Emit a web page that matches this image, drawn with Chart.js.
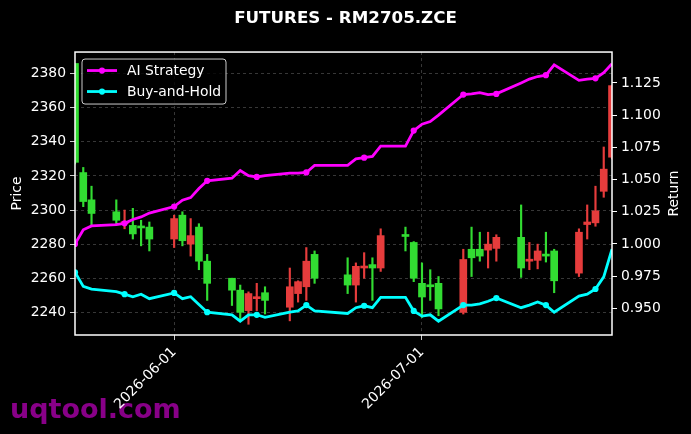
<!DOCTYPE html>
<html>
<head>
<meta charset="utf-8">
<script src="https://cdn.jsdelivr.net/npm/chart.js@4.4.1/dist/chart.umd.min.js"></script>
<style>
  html, body { margin: 0; padding: 0; background: #000; }
</style>
</head>
<body>
<canvas id="candleCanvas" width="691" height="434"></canvas>
<script>
const dates = [
  "2026-05-20", "2026-05-21", "2026-05-22", "2026-05-25", "2026-05-26", "2026-05-27", "2026-05-28", "2026-05-29",
  "2026-06-01", "2026-06-02", "2026-06-03", "2026-06-04", "2026-06-05", "2026-06-08", "2026-06-09", "2026-06-10",
  "2026-06-11", "2026-06-12", "2026-06-15", "2026-06-16", "2026-06-17", "2026-06-18", "2026-06-22", "2026-06-23",
  "2026-06-24", "2026-06-25", "2026-06-26", "2026-06-29", "2026-06-30", "2026-07-01", "2026-07-02", "2026-07-03",
  "2026-07-06", "2026-07-07", "2026-07-08", "2026-07-09", "2026-07-10", "2026-07-13", "2026-07-14", "2026-07-15",
  "2026-07-16", "2026-07-17", "2026-07-20", "2026-07-21", "2026-07-22", "2026-07-23", "2026-07-24",
];
const opens = [
  2386, 2322, 2306, 2299, 2292, 2291, 2290, 2290, 2283, 2297, 2280, 2290, 2270, 2260, 2253, 2241,
  2248, 2251.5, 2243, 2251, 2255, 2274, 2262, 2256, 2266, 2268, 2266, 2285, 2281, 2257, 2255.5, 2257,
  2240, 2277, 2277, 2276.5, 2277.5, 2284, 2270, 2270.5, 2273.5, 2276, 2263, 2291.5, 2292.5, 2311, 2331,
];
const highs = [
  2386, 2325, 2314, 2306, 2300, 2301, 2294, 2293, 2297, 2299, 2295, 2292, 2274, 2260, 2256, 2252,
  2257, 2255, 2266, 2258.5, 2278, 2276, 2272, 2269, 2275, 2272, 2289, 2290, 2281.5, 2269, 2265, 2261,
  2277, 2290, 2287, 2287, 2285.5, 2303, 2281, 2280, 2287, 2277, 2289, 2303, 2314, 2337, 2373,
];
const lows = [
  2327, 2302, 2291, 2292, 2289, 2283, 2279, 2276, 2278, 2279, 2273, 2265, 2247, 2244, 2235, 2233,
  2241, 2239, 2235, 2246, 2247, 2257, 2251, 2246, 2260, 2247, 2264, 2276, 2258, 2237, 2247, 2238,
  2239, 2261, 2270, 2266, 2270, 2260.5, 2265, 2265.5, 2269.5, 2251.5, 2261, 2283, 2290.5, 2307.5, 2330,
];
const closes = [
  2328, 2305, 2298, 2294, 2293, 2286, 2289.5, 2283, 2295, 2282, 2285, 2270, 2257, 2253, 2240, 2251,
  2249, 2247, 2255, 2258, 2270, 2260, 2256, 2267, 2267, 2266, 2285, 2284.5, 2260, 2249, 2255, 2242,
  2271, 2272, 2273, 2280, 2284, 2266, 2271, 2276, 2273, 2258.5, 2287, 2293, 2299.5, 2324, 2373,
];
const aiStrategy = [
  1.000, 1.011, 1.014, 1.015, 1.016, 1.019, 1.021, 1.024, 1.029, 1.034, 1.036, 1.043, 1.049, 1.051, 1.057, 1.053,
  1.052, 1.053, 1.055, 1.055, 1.0555, 1.061, 1.061, 1.066, 1.067, 1.068, 1.076, 1.076, 1.088, 1.093, 1.095, 1.100,
  1.116, 1.1165, 1.1175, 1.116, 1.1165, 1.125, 1.128, 1.130, 1.131, 1.139, 1.127, 1.128, 1.1286, 1.133, 1.140,
];
const buyHold = [
  0.978, 0.967, 0.965, 0.963, 0.961, 0.959, 0.961, 0.9575, 0.962, 0.9575, 0.959, 0.953, 0.947, 0.945, 0.940, 0.945,
  0.945, 0.943, 0.947, 0.948, 0.9525, 0.948, 0.946, 0.9505, 0.952, 0.9505, 0.9585, 0.9585, 0.948, 0.944, 0.945, 0.940,
  0.9525, 0.9525, 0.9535, 0.9555, 0.958, 0.9505, 0.9525, 0.955, 0.9525, 0.947, 0.9595, 0.961, 0.965, 0.9745, 0.996,
];
const priceTicks = [2240, 2260, 2280, 2300, 2320, 2340, 2360, 2380];
const returnTicks = [0.95, 0.975, 1.0, 1.025, 1.05, 1.075, 1.1, 1.125];
const dateTicks = ["2026-06-01", "2026-07-01"];

const UP = "#e63c3c";
const DOWN = "#32dc32";
const FONT = "DejaVu Sans";

const toDay = (s) => Date.parse(s + "T00:00:00Z") / 86400000;
const fmtDay = (v) => new Date(v * 86400000).toISOString().slice(0, 10);
const candleColor = (i) => (closes[i] >= opens[i] ? UP : DOWN);

const xs = dates.map(toDay);
const wickData = dates.map((d, i) => ({ x: xs[i], y: [lows[i], highs[i]] }));
const bodyData = dates.map((d, i) => ({ x: xs[i], y: [opens[i], closes[i]] }));
const aiData = dates.map((d, i) => ({ x: xs[i], y: aiStrategy[i] }));
const bhData = dates.map((d, i) => ({ x: xs[i], y: buyHold[i] }));

const everyFourth = (ctx) => (ctx.dataIndex % 4 === 0 ? 3.1 : 0);

const gridColor = "rgba(128, 128, 128, 0.55)";

// black background, watermark, frame, legend box and the right axis label
const framePlugin = {
  id: "frame",
  beforeDraw: (chart) => {
    const { ctx, width, height } = chart;
    ctx.save();
    ctx.fillStyle = "#000";
    ctx.fillRect(0, 0, width, height);
    ctx.font = `bold 27px "${FONT}"`;
    ctx.fillStyle = "#880088";
    ctx.textBaseline = "alphabetic";
    ctx.fillText("uqtool.com", 10, 418);
    ctx.restore();
  },
  afterDatasetsDraw: (chart) => {
    const {
      ctx,
      chartArea: { left, top, right, bottom },
    } = chart;
    ctx.save();
    ctx.strokeStyle = "#fff";
    ctx.lineWidth = 1.5;
    ctx.strokeRect(left, top, right - left, bottom - top);

    const bx = left + 7;
    const by = top + 7;
    ctx.beginPath();
    ctx.roundRect(bx, by, 144, 45, 3);
    ctx.fillStyle = "rgba(0, 0, 0, 0.8)";
    ctx.fill();
    ctx.strokeStyle = "#cccccc";
    ctx.lineWidth = 1;
    ctx.stroke();

    const lines = chart.data.datasets.filter((ds) => ds.type === "line");
    lines.forEach((ds, k) => {
      const y = by + 11.5 + k * 21;
      ctx.strokeStyle = ds.borderColor;
      ctx.lineWidth = ds.borderWidth;
      ctx.beginPath();
      ctx.moveTo(bx + 5, y);
      ctx.lineTo(bx + 35, y);
      ctx.stroke();
      ctx.fillStyle = ds.borderColor;
      ctx.beginPath();
      ctx.arc(bx + 20, y, 3.1, 0, Math.PI * 2);
      ctx.fill();
      ctx.fillStyle = "#fff";
      ctx.font = `13.9px "${FONT}"`;
      ctx.textBaseline = "middle";
      ctx.fillText(ds.label, bx + 45, y + 1);
    });

    // matplotlib keeps the twin axis label reading bottom to top
    ctx.translate(674, (top + bottom) / 2);
    ctx.rotate(-Math.PI / 2);
    ctx.fillStyle = "#fff";
    ctx.font = `13.9px "${FONT}"`;
    ctx.textAlign = "center";
    ctx.textBaseline = "middle";
    ctx.fillText("Return", 0, 0);
    ctx.restore();
  },
};

const config = {
  type: "bar",
  data: {
    datasets: [
      {
        type: "line",
        label: "AI Strategy",
        data: aiData,
        yAxisID: "y1",
        borderColor: "#ff00ff",
        backgroundColor: "#ff00ff",
        borderWidth: 2.8,
        pointRadius: everyFourth,
        pointBorderWidth: 0,
        pointBackgroundColor: "#ff00ff",
        tension: 0,
        order: 0,
      },
      {
        type: "line",
        label: "Buy-and-Hold",
        data: bhData,
        yAxisID: "y1",
        borderColor: "#00ffff",
        backgroundColor: "#00ffff",
        borderWidth: 2.8,
        pointRadius: everyFourth,
        pointBorderWidth: 0,
        pointBackgroundColor: "#00ffff",
        tension: 0,
        order: 0,
      },
      {
        label: "body",
        data: bodyData,
        yAxisID: "y",
        backgroundColor: dates.map((d, i) => candleColor(i)),
        barThickness: 7,
        minBarLength: 2,
        grouped: false,
        order: 1,
      },
      {
        label: "wick",
        data: wickData,
        yAxisID: "y",
        backgroundColor: dates.map((d, i) => candleColor(i)),
        barThickness: 1.5,
        grouped: false,
        order: 2,
      },
    ],
  },
  options: {
    responsive: false,
    animation: false,
    layout: { padding: 0 },
    plugins: {
      legend: { display: false },
      tooltip: { enabled: false },
      title: {
        display: true,
        text: "FUTURES - RM2705.ZCE",
        color: "#fff",
        font: { family: FONT, size: 16.7, weight: "bold" },
        padding: { top: 9, bottom: 23 },
      },
    },
    scales: {
      x: {
        type: "linear",
        min: xs[0],
        max: xs[xs.length - 1],
        offset: false,
        afterBuildTicks: (s) => {
          s.ticks = dateTicks.map((d) => ({ value: toDay(d) }));
        },
        afterFit: (s) => {
          s.height = 99;
        },
        ticks: {
          color: "#fff",
          font: { family: FONT, size: 13.9 },
          minRotation: 45,
          maxRotation: 45,
          padding: 4,
          callback: (v) => fmtDay(v),
        },
        grid: {
          color: gridColor,
          lineWidth: 0.8,
          offset: false,
          tickColor: "#fff",
          tickLength: 5,
          tickBorderDash: [],
        },
        border: { display: false, dash: [3, 3] },
      },
      y: {
        position: "left",
        min: 2226.7,
        max: 2392.7,
        afterBuildTicks: (s) => {
          s.ticks = priceTicks.map((v) => ({ value: v }));
        },
        afterFit: (s) => {
          s.width = 75;
        },
        ticks: {
          color: "#fff",
          font: { family: FONT, size: 13.9 },
          padding: 4,
          callback: (v) => String(v),
        },
        title: {
          display: true,
          text: "Price",
          color: "#fff",
          font: { family: FONT, size: 13.9 },
          padding: { top: 9, bottom: 0 },
        },
        grid: {
          color: gridColor,
          lineWidth: 0.8,
          tickColor: "#fff",
          tickLength: 5,
          tickBorderDash: [],
        },
        border: { display: false, dash: [3, 3] },
      },
      y1: {
        position: "right",
        min: 0.9293,
        max: 1.149,
        afterBuildTicks: (s) => {
          s.ticks = returnTicks.map((v) => ({ value: v }));
        },
        afterFit: (s) => {
          s.width = 79;
        },
        ticks: {
          color: "#fff",
          font: { family: FONT, size: 13.9 },
          padding: 4,
          callback: (v) => v.toFixed(3),
        },
        grid: {
          drawOnChartArea: false,
          tickColor: "#fff",
          tickLength: 5,
        },
        border: { display: false },
      },
    },
  },
  plugins: [framePlugin],
};

const canvas = document.getElementById("candleCanvas");
if (canvas) {
  new Chart(canvas.getContext("2d"), config);
} else {
  console.error("canvas not found");
}
</script>
</body>
</html>
